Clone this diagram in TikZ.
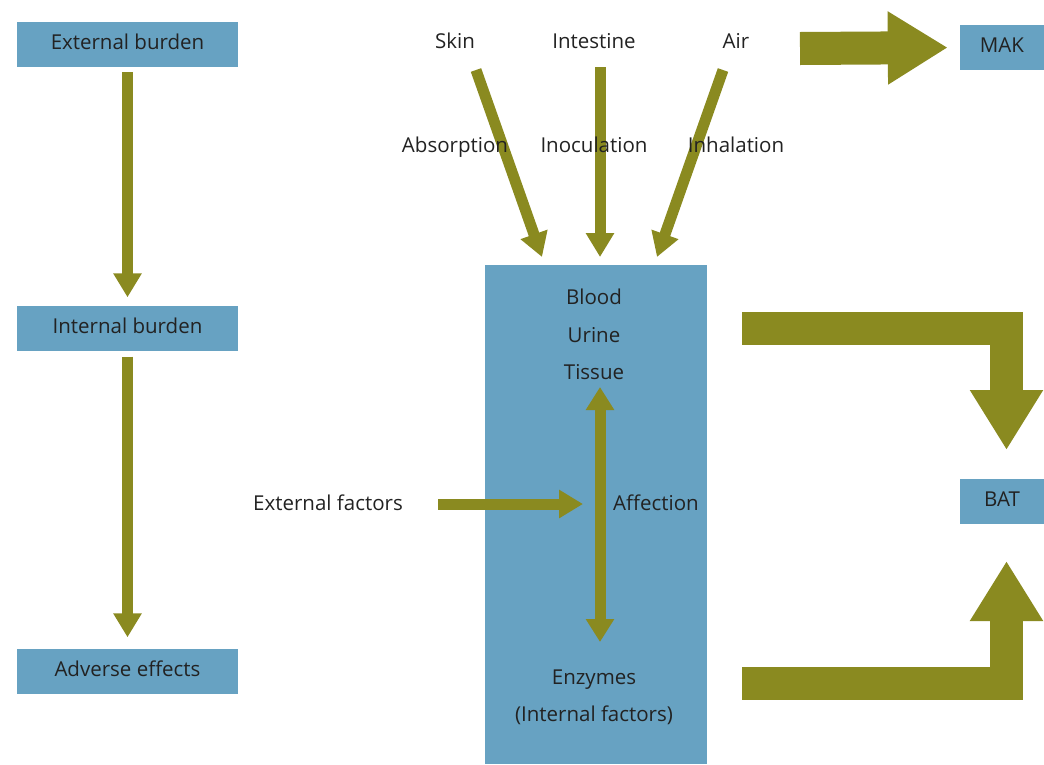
\documentclass[tikz,border=0pt]{standalone}
\usepackage{fontspec}
\setmainfont{Open Sans}
\usetikzlibrary{arrows.meta}

\definecolor{boxblue}{HTML}{67A2C2}
\definecolor{olive}{HTML}{8A8A20}
\definecolor{txt}{HTML}{222222}

\tikzset{
  burden/.style={fill=boxblue,minimum width=221pt,minimum height=45pt,inner sep=0pt},
  limit/.style={fill=boxblue,minimum width=84pt,minimum height=45pt,inner sep=0pt},
  label text/.style={yshift=-2pt},
  thin arrow/.style={draw=olive,line width=11pt,-{Triangle[width=27pt,length=24pt]}},
  both arrow/.style={draw=olive,line width=11pt,{Triangle[width=27pt,length=23pt]}-{Triangle[width=27pt,length=23pt]}},
  fat arrow/.style={draw=olive,line width=33pt,line join=miter,-{Triangle[width=69pt,length=60pt]}}
}

\begin{document}
\begin{tikzpicture}[x=1pt,y=-1pt,every node/.style={text=txt,font=\fontsize{20.5}{24}\selectfont,text height=14pt,text depth=4pt}]
        \useasboundingbox (0,0) rectangle (1044,764);

        % blood / urine / tissue column
        \fill[boxblue] (485,265) rectangle (707,764);

        \begin{scope}[every node/.append style={burden}]
          \node (ext) at (127.5,44.5) {External burden};
          \node (int) at (127.5,328)  {Internal burden};
          \node (adv) at (127.5,671)  {Adverse effects};
        \end{scope}

        \begin{scope}[every node/.append style={limit}]
          \node (mak) at (1002,47.5) {MAK};
          \node (bat) at (1002,501)  {BAT};
        \end{scope}

        \begin{scope}[every node/.append style={label text}]
          \node (skin)  at (455,41) {Skin};
          \node (intes) at (594,41) {Intestine};
          \node (air)   at (736,41) {Air};
          \node (extf)  at (328,503) {External factors};
          \node (blood) at (594,297) {Blood};
          \node (urine) at (594,335) {Urine};
          \node (tiss)  at (594,372) {Tissue};
          \node (enz)   at (594,677) {Enzymes};
          \node (intf)  at (594,714) {(Internal factors)};
        \end{scope}

        \coordinate (skin-s)  at (476,70);
        \coordinate (skin-t)  at (542,257);
        \coordinate (intes-s) at (600,67);
        \coordinate (intes-t) at (600,257);
        \coordinate (air-s)   at (723,70);
        \coordinate (air-t)   at (657,257);
        \coordinate (aff-t)   at (600,387);
        \coordinate (aff-b)   at (600,642);
        \coordinate (extf-s)  at (438,504);
        \coordinate (extf-t)  at (583,504);
        \coordinate (mak-s)   at (800,48.5);
        \coordinate (top-s)   at (742,328);
        \coordinate (top-t)   at (1006.5,450);
        \coordinate (bot-s)   at (742,683.5);
        \coordinate (bot-t)   at (1006.5,561);

        \begin{scope}
          \path (ext) edge[thin arrow,shorten <=5pt,shorten >=8pt] (int);
          \path (int) edge[thin arrow,shorten <=6pt,shorten >=11pt] (adv);
          \path (skin-s)  edge[thin arrow] (skin-t);
          \path (intes-s) edge[thin arrow] (intes-t);
          \path (air-s)   edge[thin arrow] (air-t);
          \path (extf-s)  edge[thin arrow] (extf-t);
          \path (aff-t)   edge[both arrow] (aff-b);
        \end{scope}

        % route labels sit on top of the arrows
        \begin{scope}[every node/.append style={label text}]
          \node (abs)  at (455,145) {Absorption};
          \node (inoc) at (594,145) {Inoculation};
          \node (inh)  at (736,145) {Inhalation};
          \node (aff)  at (656,503) {Affection};
        \end{scope}

        \draw[fat arrow,shorten >=12pt] (mak-s) -- (mak.west);
        \draw[fat arrow] (top-s) -| (top-t);
        \draw[fat arrow] (bot-s) -| (bot-t);

      \end{tikzpicture}
\end{document}
